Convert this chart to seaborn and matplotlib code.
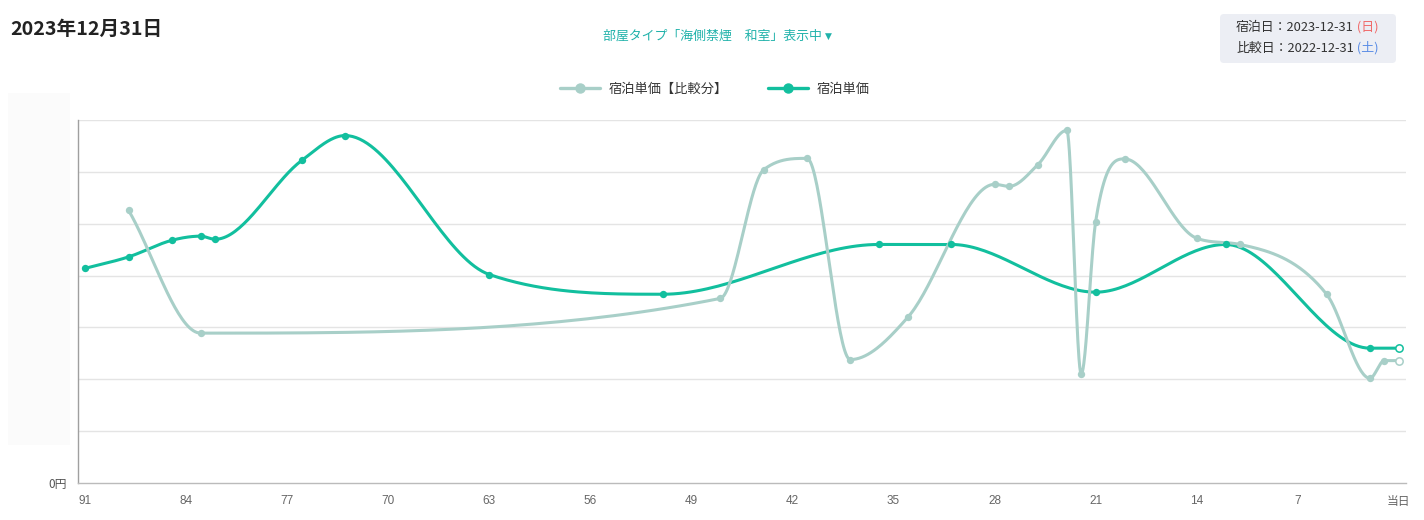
import numpy as np
import pandas as pd
import matplotlib
matplotlib.use("Agg")
import matplotlib.pyplot as plt
import seaborn as sns
from matplotlib.patches import FancyBboxPatch, Rectangle
from matplotlib.lines import Line2D
from matplotlib.transforms import IdentityTransform

# ---------------- data ----------------
days_current = [91, 88, 85, 83, 82, 76, 73, 63, 51, 36, 31, 21, 12, 2, 0]
price_current = [20700, 21800, 23400, 23800, 23500, 31100, 33500, 20100, 18200,
                 23000, 23000, 18400, 23000, 13000, 13000]

days_compare = [88, 83, 47, 44, 41, 38, 34, 28, 27, 25, 23, 22, 21, 19, 14, 11, 5, 2, 1, 0]
price_compare = [26300, 14450, 17800, 30200, 31300, 11900, 16000, 28800, 28600, 30700,
                 34000, 10500, 25200, 31250, 23600, 23000, 18200, 10100, 11800, 11800]

x_ticks = [91, 84, 77, 70, 63, 56, 49, 42, 35, 28, 21, 14, 7, 0]
x_tick_labels = ["91", "84", "77", "70", "63", "56", "49", "42", "35", "28", "21", "14", "7", "当日"]
y_ticks = [0, 5000, 10000, 15000, 20000, 25000, 30000, 35000]

label_compare = "宿泊単価【比較分】"
label_current = "宿泊単価"
title_text = "2023年12月31日"
subtitle_text = "部屋タイプ「海側禁煙　和室」表示中"
subtitle_arrow = "▼"
stay_text, stay_day = "宿泊日：2023-12-31", " (日)"
comp_text, comp_day = "比較日：2022-12-31", " (土)"

GREEN = "#12bf9e"
GREY = "#a8cfc8"

# ---------------- style ----------------
sns.set_style("white")
plt.rcParams["font.family"] = ["Noto Sans CJK JP", "DejaVu Sans"]

W, H = 1424, 520
fig = plt.figure(figsize=(W / 100, H / 100), dpi=100)
fig.patch.set_facecolor("white")

# faint panel on the left
fig.patches.append(Rectangle((8 / W, 1 - 445 / H), 62 / W, 352 / H, transform=fig.transFigure,
                             facecolor="#fbfbfb", edgecolor="none", zorder=0))

ax = fig.add_axes([78 / W, (H - 483) / H, (1406 - 78) / W, (483 - 120) / H])
ax.set_facecolor("none")
ax.set_xlim(91.5, -0.5)
ax.set_ylim(0, 35000)


# ---------------- monotone cubic smoothing (Fritsch-Carlson) ----------------
def monotone_curve(days, vals, nseg=40):
    x = -np.asarray(days, dtype=float)  # increasing left to right
    y = np.asarray(vals, dtype=float)
    n = len(x)
    dk = np.diff(y) / np.diff(x)
    m = np.zeros(n)
    m[0] = dk[0]
    m[-1] = dk[-1]
    for i in range(1, n - 1):
        if np.sign(dk[i - 1]) != np.sign(dk[i]):
            m[i] = 0.0
        else:
            m[i] = (dk[i - 1] + dk[i]) / 2
    for i in range(n - 1):
        if abs(dk[i]) < 1e-9:
            m[i] = m[i + 1] = 0.0
            continue
        a = m[i] / dk[i]
        b = m[i + 1] / dk[i]
        mag = a * a + b * b
        if mag <= 9:
            continue
        tau = 3 / np.sqrt(mag)
        m[i] = a * tau * dk[i]
        m[i + 1] = b * tau * dk[i]
    xs, ys = [x[0]], [y[0]]
    for i in range(n - 1):
        h = (x[i + 1] - x[i]) / 3
        c0 = (x[i] + h, y[i] + m[i] * h)
        c1 = (x[i + 1] - h, y[i + 1] - m[i + 1] * h)
        t = np.linspace(0, 1, nseg)[1:]
        bx = ((1 - t) ** 3 * x[i] + 3 * (1 - t) ** 2 * t * c0[0]
              + 3 * (1 - t) * t ** 2 * c1[0] + t ** 3 * x[i + 1])
        by = ((1 - t) ** 3 * y[i] + 3 * (1 - t) ** 2 * t * c0[1]
              + 3 * (1 - t) * t ** 2 * c1[1] + t ** 3 * y[i + 1])
        xs.extend(bx)
        ys.extend(by)
    return pd.DataFrame({"day": -np.array(xs), "price": np.array(ys)})


cur_curve = monotone_curve(days_current, price_current)
cmp_curve = monotone_curve(days_compare, price_compare)

# grid
for yv in y_ticks[1:]:
    ax.axhline(yv, color="#e4e4e4", lw=1, zorder=0)

sns.lineplot(data=cur_curve, x="day", y="price", sort=False, estimator=None,
             color=GREEN, lw=2.2, ax=ax, zorder=3)
sns.lineplot(data=cmp_curve, x="day", y="price", sort=False, estimator=None,
             color=GREY, lw=2.2, ax=ax, zorder=4)

cur_df = pd.DataFrame({"day": days_current, "price": price_current})
cmp_df = pd.DataFrame({"day": days_compare, "price": price_compare})
sns.scatterplot(data=cur_df.iloc[:-1], x="day", y="price", color=GREEN, s=28,
                edgecolor=GREEN, linewidth=0, ax=ax, zorder=5)
sns.scatterplot(data=cur_df.iloc[-1:], x="day", y="price", color="white", s=28,
                edgecolor=GREEN, linewidth=1.1, ax=ax, zorder=5)
sns.scatterplot(data=cmp_df.iloc[:-1], x="day", y="price", color=GREY, s=28,
                edgecolor=GREY, linewidth=0, ax=ax, zorder=6)
sns.scatterplot(data=cmp_df.iloc[-1:], x="day", y="price", color="white", s=28,
                edgecolor=GREY, linewidth=1.1, ax=ax, zorder=6)

# axes
ax.set_xlabel("")
ax.set_ylabel("")
for s in ["top", "right"]:
    ax.spines[s].set_visible(False)
ax.spines["left"].set_color("#a0a0a0")
ax.spines["bottom"].set_color("#bbbbbb")
ax.spines["left"].set_linewidth(1)
ax.spines["bottom"].set_linewidth(1)

ax.set_xticks(x_ticks)
ax.set_xticklabels(x_tick_labels, family=["Liberation Sans", "Noto Sans CJK JP"],
                   fontsize=8.5, color="#666666")
ax.tick_params(axis="x", length=0, pad=9)
ax.set_xticks([91.5], minor=True)
ax.tick_params(axis="x", which="minor", length=7, color="#a0a0a0", width=1)

ax.set_yticks(y_ticks)
ax.set_yticklabels(["0円"] + [""] * (len(y_ticks) - 1), fontsize=8.5, color="#555555")
ax.tick_params(axis="y", length=6, color="#e4e4e4", width=1, pad=2)
ax.yaxis.get_major_ticks()[0].tick1line.set_color("#a0a0a0")

# legend
handles = [Line2D([], [], color=GREY, lw=2.4, marker="o", ms=6.5, mec=GREY),
           Line2D([], [], color=GREEN, lw=2.4, marker="o", ms=6.5, mec=GREEN)]
fig.legend(handles, [label_compare, label_current], loc="center",
           bbox_to_anchor=(715 / W, 1 - 89 / H), ncol=2, frameon=False,
           fontsize=9.5, handlelength=3.0, handletextpad=0.7, columnspacing=3.0,
           labelcolor="#333333")

# title & subtitle
fig.text(10 / W, 1 - 29 / H, title_text, fontsize=14.2, fontweight="bold",
         color="#222222", ha="left", va="center")
sub = fig.text(603 / W, 1 - 36 / H, subtitle_text, fontsize=9.3, color="#20b2aa",
               ha="left", va="center")

# date box
box = FancyBboxPatch((1220, H - 63), 176, 49, boxstyle="round,pad=0,rounding_size=4",
                     transform=IdentityTransform(), facecolor="#eceef4", edgecolor="none")
fig.patches.append(box)
t1 = fig.text(1236 / W, 1 - 27 / H, stay_text, fontsize=9.3, color="#333333",
              ha="left", va="center")
t2 = fig.text(1236 / W, 1 - 48 / H, comp_text, fontsize=9.3, color="#333333",
              ha="left", va="center")

fig.canvas.draw()
rend = fig.canvas.get_renderer()
bb1 = t1.get_window_extent(rend)
bb2 = t2.get_window_extent(rend)
bbs = sub.get_window_extent(rend)
fig.text(bb1.x1 / W, 1 - 27 / H, stay_day, fontsize=9.3, color="#f06b6b",
         ha="left", va="center")
fig.text(bb2.x1 / W, 1 - 48 / H, comp_day, fontsize=9.3, color="#5b8de6",
         ha="left", va="center")
fig.text((bbs.x1 + 3) / W, 1 - 36 / H, subtitle_arrow, fontsize=6.5, color="#20b2aa",
         ha="left", va="center", family=["DejaVu Sans"])

fig.savefig("out.png", dpi=100)
